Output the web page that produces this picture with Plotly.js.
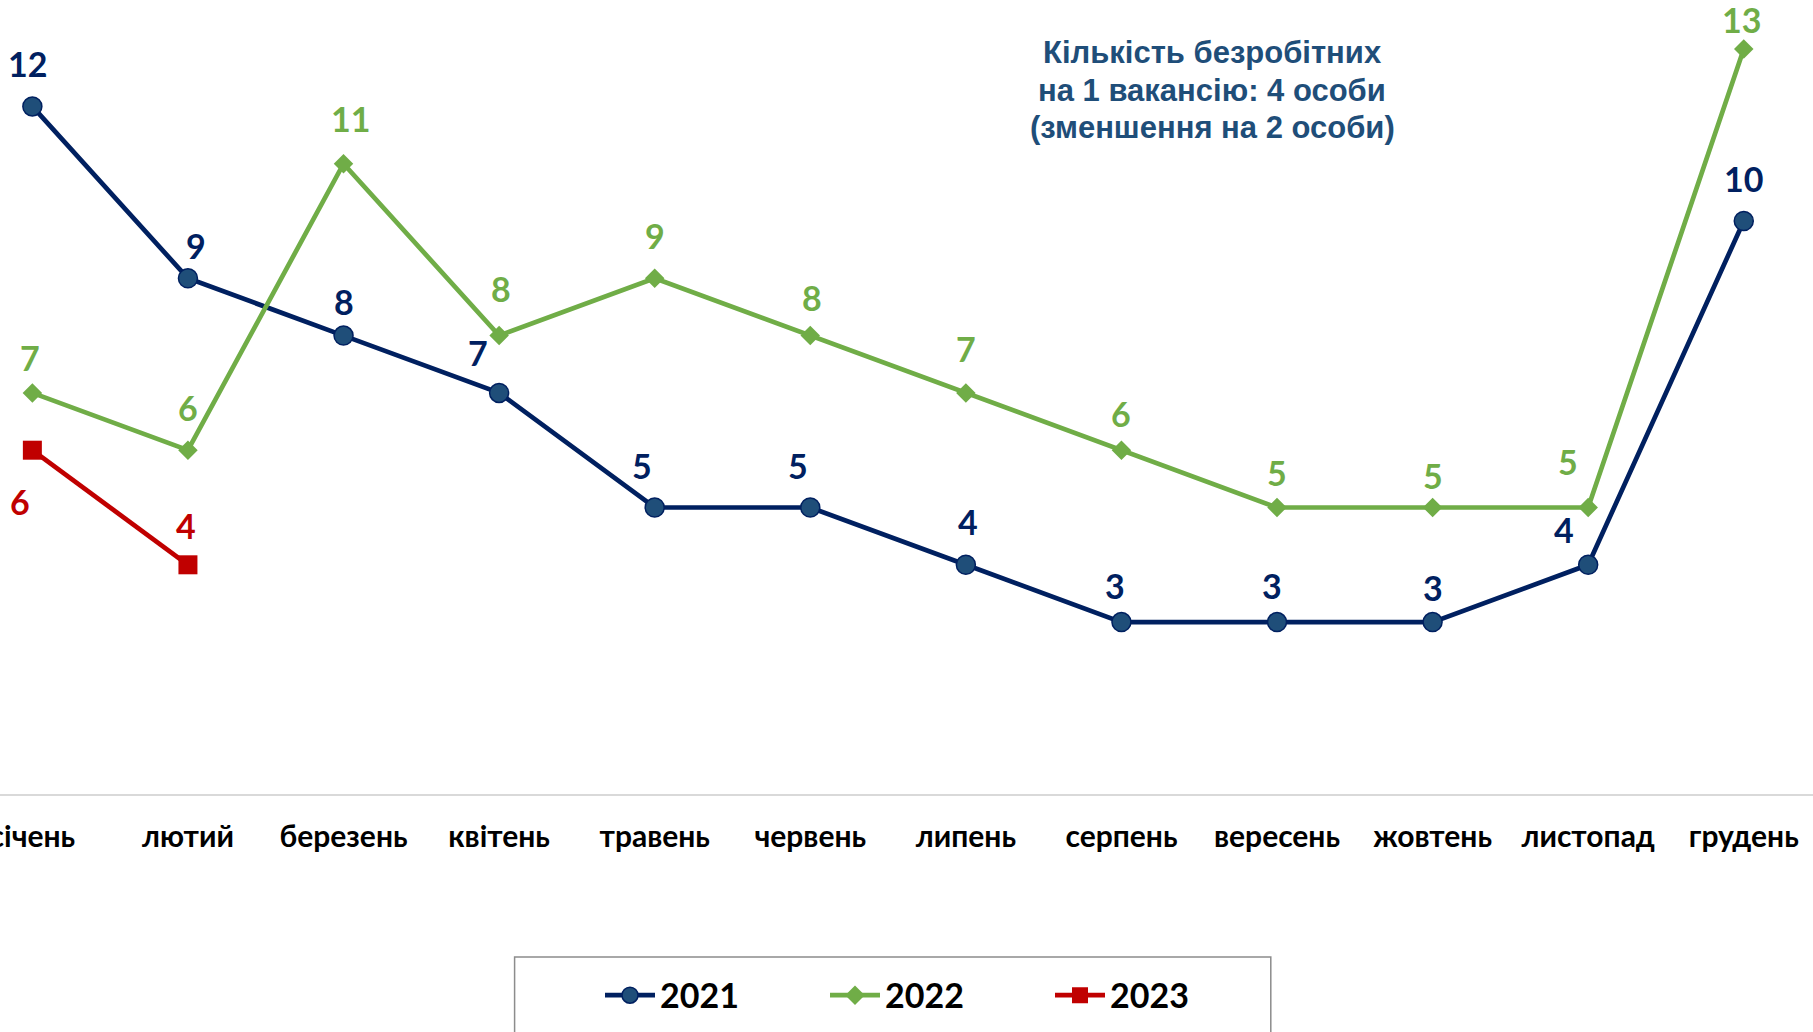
<!DOCTYPE html>
<html>
<head>
<meta charset="utf-8">
<script src="https://cdn.plot.ly/plotly-3.0.1.min.js"></script>
<style>
  html, body { margin: 0; padding: 0; background: #ffffff; }
  #chart { width: 1813px; height: 1032px; }
</style>
</head>
<body>
<div id="chart"></div>
<script>
// ---- data ----
const months = ['січень','лютий','березень','квітень','травень','червень','липень','серпень','вересень','жовтень','листопад','грудень'];
const values2021 = [12, 9, 8, 7, 5, 5, 4, 3, 3, 3, 4, 10];
const values2022 = [7, 6, 11, 8, 9, 8, 7, 6, 5, 5, 5, 13];
const values2023 = [6, 4];
const seriesNames = ['2021', '2022', '2023'];
const noteLines = ['Кількість безробітних', 'на 1 вакансію: 4 особи', '(зменшення на 2 особи)'];

// ---- label offsets (px, relative to point) ----
const dx2021 = [-5, 8, 0, -21, -13, -12, 2, -6, -5, 0, -24, 0];
const dy2021 = [43, 33, 34, 40, 42, 42, 43, 37, 37, 35, 35, 43];
const dx2022 = [-2, 0, 7, 2, 0, 2, 0, 0, 0, 0, -20, -2];
const dy2022 = [35, 43, 45, 47, 43, 38, 44, 37, 35, 32, 46, 30];
const dx2023 = [-12, -2];
const dy2023 = [-51, 39];

const FONT = 'Lato, "Open Sans", "Noto Sans", sans-serif';
const navy = '#002060', navyFill = '#1F4E79', green = '#70AD47', red = '#C00000';

const traces = [
  { x: months, y: values2021, name: seriesNames[0], type: 'scatter', mode: 'lines+markers',
    line: { color: navy, width: 4.7 },
    marker: { symbol: 'circle', size: 19, color: navyFill, line: { color: navy, width: 1.5 } },
    cliponaxis: false, hoverinfo: 'skip' },
  { x: months, y: values2022, name: seriesNames[1], type: 'scatter', mode: 'lines+markers',
    line: { color: green, width: 4.7 },
    marker: { symbol: 'diamond', size: 15, color: green },
    cliponaxis: false, hoverinfo: 'skip' },
  { x: months.slice(0, values2023.length), y: values2023, name: seriesNames[2], type: 'scatter', mode: 'lines+markers',
    line: { color: red, width: 4.7 },
    marker: { symbol: 'square', size: 19, color: red },
    cliponaxis: false, hoverinfo: 'skip' }
];

const annotations = [];
function addLabels(vals, dx, dy, color) {
  vals.forEach((v, i) => annotations.push({
    x: months[i], y: v, xref: 'x', yref: 'y', text: '<b>' + v + '</b>', showarrow: false,
    xshift: dx[i], yshift: dy[i], font: { family: FONT, size: 34, color: color }
  }));
}
addLabels(values2021, dx2021, dy2021, navy);
addLabels(values2022, dx2022, dy2022, green);
addLabels(values2023, dx2023, dy2023, red);

const noteY = [52, 90, 127.5];
noteLines.forEach((s, i) => annotations.push({
  x: 1212 / 1813, y: 1 - noteY[i] / 794, xref: 'paper', yref: 'paper', showarrow: false,
  xanchor: 'center', yanchor: 'middle',
  text: '<b>' + s + '</b>',
  font: { family: '"Liberation Sans", Arial, sans-serif', size: 31, color: '#1F4E79' }
}));

const layout = {
  width: 1813, height: 1032,
  margin: { l: 0, r: 0, t: 0, b: 238, pad: 0 },
  paper_bgcolor: '#ffffff', plot_bgcolor: '#ffffff',
  showlegend: true,
  xaxis: {
    type: 'category', range: [-0.208, 11.445], showgrid: false, zeroline: false,
    showline: true, linecolor: '#D9D9D9', linewidth: 2,
    ticks: 'outside', ticklen: 15, tickcolor: 'rgba(0,0,0,0)',
    tickfont: { family: FONT, size: 30, color: '#000000', weight: 'bold' }
  },
  yaxis: { range: [0, 13.857], visible: false, showgrid: false, zeroline: false, fixedrange: true },
  legend: {
    orientation: 'h', x: 600 / 1813, xanchor: 'left', y: (794 - 995.6) / 794, yanchor: 'middle',
    bgcolor: 'rgba(0,0,0,0)', borderwidth: 0,
    font: { family: FONT, size: 34, color: '#000000', weight: 'bold' },
    itemwidth: 50, entrywidthmode: 'pixels', entrywidth: 160
  },
  shapes: [{
    type: 'rect', xref: 'paper', yref: 'paper',
    x0: 514.6 / 1813, x1: 1270.8 / 1813, y0: (794 - 957) / 794, y1: (794 - 1060) / 794,
    line: { color: '#8C8C8C', width: 1.5 }, fillcolor: 'rgba(0,0,0,0)', layer: 'below'
  }],
  annotations: annotations
};

Plotly.newPlot('chart', traces, layout, { staticPlot: true, displayModeBar: false });
</script>
</body>
</html>
